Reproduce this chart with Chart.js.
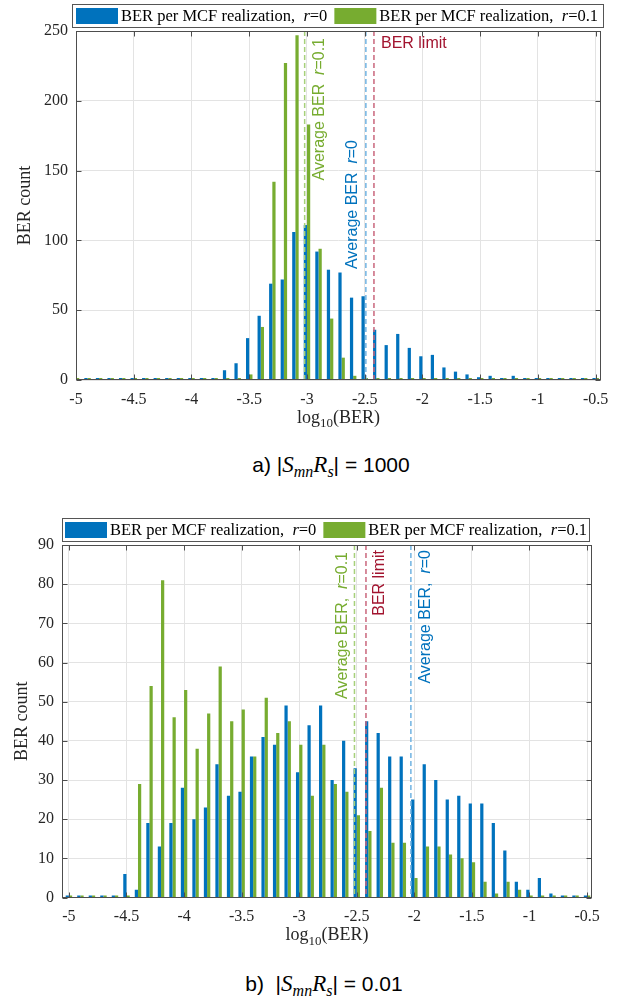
<!DOCTYPE html>
<html>
<head>
<meta charset="utf-8">
<script src="https://cdn.jsdelivr.net/npm/chart.js@4.4.1/dist/chart.umd.min.js"></script>
<style>
  html, body { margin: 0; padding: 0; background: #fff; }
  body { width: 622px; height: 997px; position: relative; overflow: hidden; }
  canvas { position: absolute; left: 0; }
  #chartA { top: 0; }
  #chartB { top: 500px; }
  .cap { position: absolute; width: 622px; text-align: center; font-family: "Liberation Sans", Arial, sans-serif; font-size: 21px; color: #000; line-height: 24px; }
  .cap i { font-family: "Liberation Serif", serif; font-size: 23px; }
  .cap sub { font-family: "Liberation Serif", serif; font-style: italic; font-size: 16px; }
</style>
</head>
<body>
<canvas id="chartA" width="622" height="445"></canvas>
<div class="cap" style="left:20px; top:453px">a) |<i>S</i><sub>mn</sub><i>R</i><sub>s</sub>| = 1000</div>
<canvas id="chartB" width="622" height="455"></canvas>
<div class="cap" style="left:13px; top:972px">b)&nbsp; |<i>S</i><sub>mn</sub><i>R</i><sub>s</sub>| = 0.01</div>
<script>
// histogram bin centres, log10(BER)
const bins = [-5.0, -4.9, -4.8, -4.7, -4.6, -4.5, -4.4, -4.3, -4.2, -4.1, -4.0, -3.9, -3.8, -3.7, -3.6, -3.5,
              -3.4, -3.3, -3.2, -3.1, -3.0, -2.9, -2.8, -2.7, -2.6, -2.5, -2.4, -2.3, -2.2, -2.1, -2.0, -1.9,
              -1.8, -1.7, -1.6, -1.5, -1.4, -1.3, -1.2, -1.1, -1.0, -0.9, -0.8, -0.7, -0.6, -0.5];

// a) |SmnRs| = 1000
const blueA = [0, 0, 0, 0, 0, 0, 0, 0, 0, 0, 0, 0, 0, 7, 12, 30, 46, 69, 72, 106, 111, 92, 79, 77, 59, 60,
               36, 25, 33, 23, 17, 18, 9, 6, 4, 2, 3, 1, 3, 0, 0, 0, 0, 0, 0, 0];
const greenA = [0, 0, 0, 0, 0, 0, 0, 0, 0, 0, 0, 0, 0, 0, 1, 4, 38, 142, 227, 247, 183, 94, 44, 16, 3, 1,
                0, 0, 0, 0, 0, 0, 0, 0, 0, 0, 0, 0, 0, 0, 0, 0, 0, 0, 0, 0];

// b) |SmnRs| = 0.01
const blueB = [0, 0, 0, 0, 0, 6, 2, 19, 13, 19, 28, 20, 23, 34, 26, 27, 36, 41, 39, 49, 32, 44, 49, 30, 40, 33,
               45, 42, 36, 36, 25, 34, 30, 25, 26, 24, 24, 19, 12, 4, 2, 5, 1, 0, 0, 0];
const greenB = [0, 0, 0, 0, 0, 0, 29, 54, 81, 46, 53, 38, 47, 59, 45, 48, 36, 51, 42, 45, 39, 26, 39, 29, 27, 21,
                17, 28, 14, 14, 5, 13, 13, 11, 10, 9, 4, 1, 4, 2, 0, 0, 0, 0, 0, 0];

// average BER (r=0, r=0.1) and the FEC limit, log10
const avgBerA = [-2.49, -3.02];
const avgBerB = [-2.03, -2.52];
const berLimit = -2.42;

const seriesLabels = ['BER per MCF realization,  r=0', 'BER per MCF realization,  r=0.1'];
const xTicks = [-5, -4.5, -4, -3.5, -3, -2.5, -2, -1.5, -1, -0.5];
const yTicksA = [0, 50, 100, 150, 200, 250];
const yTicksB = [0, 10, 20, 30, 40, 50, 60, 70, 80, 90];

const blue = '#0072BD', green = '#77AC30', red = '#A2142F';
const serif = '"Liberation Serif", "Times New Roman", serif';
const sans = '"Liberation Sans", Arial, sans-serif';
const axisColor = '#4d4d4d', textColor = '#262626';

//split "r=" so the r can be drawn in italics
function mathParts(txt) {
    const i = txt.lastIndexOf('r=');
    if (i < 0) return [[txt, false]];
    return [[txt.slice(0, i), false], ['r', true], [txt.slice(i + 1), false]];
}

function measureParts(ctx, parts, size, family) {
    let w = 0;
    parts.forEach(([t, it]) => {
        ctx.font = (it ? 'italic ' : '') + size + 'px ' + family;
        w += ctx.measureText(t).width;
    });
    return w;
}

function drawParts(ctx, parts, x, y, size, family) {
    let w = 0;
    parts.forEach(([t, it]) => {
        ctx.font = (it ? 'italic ' : '') + size + 'px ' + family;
        ctx.fillText(t, x + w, y);
        w += ctx.measureText(t).width;
    });
    return w;
}

//dashed average / limit lines with their labels
const refLines = {
    id: 'refLines',
    afterDatasetsDraw(chart, args, opts) {
        const { ctx, chartArea: a, scales: { x } } = chart;
        ctx.save();
        ctx.lineWidth = 1.5;
        ctx.setLineDash([5, 3]);
        opts.lines.forEach(l => {
            const px = x.getPixelForValue(l.value);
            ctx.strokeStyle = l.color;
            ctx.beginPath();
            ctx.moveTo(px, a.top);
            ctx.lineTo(px, a.bottom);
            ctx.stroke();
        });
        ctx.setLineDash([]);
        ctx.textAlign = 'left';
        ctx.textBaseline = 'middle';
        opts.lines.forEach(l => {
            const px = x.getPixelForValue(l.value);
            const parts = mathParts(l.text);
            ctx.fillStyle = l.textColor;
            if (l.rotate) {
                const w = measureParts(ctx, parts, 16, sans);
                ctx.save();
                ctx.translate(px + l.dx, a.top + l.dy);
                ctx.rotate(-Math.PI / 2);
                drawParts(ctx, parts, -w, 0, 16, sans);
                ctx.restore();
            } else {
                drawParts(ctx, parts, px + l.dx, a.top + l.dy, 16, sans);
            }
        });
        ctx.restore();
    }
};

//box, inner ticks and the x title with subscript
const frame = {
    id: 'frame',
    afterDraw(chart) {
        const { ctx, chartArea: a, scales: { x, y } } = chart;
        ctx.save();
        ctx.strokeStyle = axisColor;
        ctx.lineWidth = 1;
        const L = Math.round(a.left) + 0.5, R = Math.round(a.right) - 0.5;
        const T = Math.round(a.top) + 0.5, B = Math.round(a.bottom) - 0.5;
        ctx.strokeRect(L, T, R - L, B - T);
        ctx.beginPath();
        x.ticks.forEach(t => {
            const p = Math.round(x.getPixelForValue(t.value)) + 0.5;
            ctx.moveTo(p, B); ctx.lineTo(p, B - 5);
            ctx.moveTo(p, T); ctx.lineTo(p, T + 5);
        });
        y.ticks.forEach(t => {
            const p = Math.round(y.getPixelForValue(t.value)) + 0.5;
            ctx.moveTo(L, p); ctx.lineTo(L + 5, p);
            ctx.moveTo(R, p); ctx.lineTo(R - 5, p);
        });
        ctx.stroke();

        ctx.fillStyle = textColor;
        ctx.textAlign = 'left';
        ctx.textBaseline = 'middle';
        const ty = a.bottom + 38;
        ctx.font = '18px ' + serif;
        const w1 = ctx.measureText('log').width, w3 = ctx.measureText('(BER)').width;
        ctx.font = '13px ' + serif;
        const w2 = ctx.measureText('10').width;
        let tx = (a.left + a.right) / 2 - (w1 + w2 + w3) / 2;
        ctx.font = '18px ' + serif;
        ctx.fillText('log', tx, ty);
        tx += w1;
        ctx.font = '13px ' + serif;
        ctx.fillText('10', tx, ty + 6);
        tx += w2;
        ctx.font = '18px ' + serif;
        ctx.fillText('(BER)', tx, ty);
        ctx.restore();
    }
};

//legend in a box above the axes
const boxLegend = {
    id: 'boxLegend',
    afterDraw(chart, args, o) {
        const ctx = chart.ctx;
        ctx.save();
        ctx.fillStyle = '#fff';
        ctx.fillRect(o.left, o.top, o.right - o.left, o.height);
        ctx.strokeStyle = '#555';
        ctx.lineWidth = 1;
        ctx.strokeRect(o.left + 0.5, o.top + 0.5, o.right - o.left, o.height);
        const cy = o.top + o.height / 2 + 0.5;
        let x = o.left + o.pad;
        ctx.textAlign = 'left';
        ctx.textBaseline = 'middle';
        chart.data.datasets.forEach(ds => {
            ctx.fillStyle = ds.backgroundColor;
            ctx.fillRect(x, cy - 8, 42, 16);
            x += 45;
            ctx.fillStyle = '#000';
            x += drawParts(ctx, mathParts(ds.label), x, cy + 1, o.size, serif) + 7;
        });
        ctx.restore();
    }
};

function histChart(id, blueData, greenData, o) {
    return new Chart(document.getElementById(id).getContext('2d'), {
        type: 'bar',
        data: {
            datasets: [
                { label: seriesLabels[0], data: bins.map((b, i) => ({ x: b, y: blueData[i] })), backgroundColor: blue },
                { label: seriesLabels[1], data: bins.map((b, i) => ({ x: b, y: greenData[i] })), backgroundColor: green }
            ]
        },
        options: {
            responsive: false,
            animation: false,
            devicePixelRatio: 1,
            layout: { padding: { top: o.top, right: o.right, left: 0, bottom: 0 } },
            datasets: { bar: { categoryPercentage: 0.56, barPercentage: 1, borderWidth: 0, minBarLength: 2 } },
            plugins: {
                legend: { display: false },
                tooltip: { enabled: false },
                refLines: { lines: o.lines },
                boxLegend: o.legend
            },
            scales: {
                x: {
                    type: 'linear',
                    offset: false,
                    min: o.xMin,
                    max: o.xMax,
                    afterBuildTicks: s => { s.ticks = xTicks.map(v => ({ value: v })); },
                    afterFit: s => { s.height = o.xHeight; },
                    grid: { color: '#e3e3e3', drawTicks: false, offset: false },
                    border: { display: false },
                    ticks: {
                        padding: 10, autoSkip: false, maxRotation: 0, color: textColor,
                        font: { family: serif, size: 16 },
                        callback: v => String(v)
                    }
                },
                y: {
                    min: 0,
                    max: o.yTicks[o.yTicks.length - 1],
                    afterBuildTicks: s => { s.ticks = o.yTicks.map(v => ({ value: v })); },
                    afterFit: s => { s.width = o.yWidth; },
                    grid: { color: '#e3e3e3', drawTicks: false },
                    border: { display: false },
                    ticks: { padding: 8, color: textColor, font: { family: serif, size: 16 } },
                    title: { display: true, text: 'BER count', color: textColor, font: { family: serif, size: 18 }, padding: { top: o.yTitlePad, bottom: 0 } }
                }
            }
        },
        plugins: [refLines, frame, boxLegend]
    });
}

histChart('chartA', blueA, greenA, {
    top: 31, right: 21, xHeight: 65, yWidth: 76, xMin: -5, xMax: -0.454, yTicks: yTicksA, yTitlePad: 14,
    legend: { left: 72, right: 603, top: 4, height: 23, pad: 4, size: 16.5 },
    lines: [
        { value: avgBerA[1], color: '#a6d07a', textColor: green, text: 'Average BER  r=0.1', rotate: true, dx: 15, dy: 7 },
        { value: avgBerA[0], color: '#70b3e2', textColor: blue, text: 'Average BER  r=0', rotate: true, dx: -13, dy: 109 },
        { value: berLimit, color: '#c9667c', textColor: red, text: 'BER limit', rotate: false, dx: 7, dy: 13 }
    ]
});

histChart('chartB', blueB, greenB, {
    top: 45, right: 30, xHeight: 57.5, yWidth: 62, xMin: -5.06, xMax: -0.457, yTicks: yTicksB, yTitlePad: 11,
    legend: { left: 62, right: 589, top: 18, height: 23, pad: 3, size: 16.5 },
    lines: [
        { value: avgBerB[1], color: '#a6d07a', textColor: green, text: 'Average BER,  r=0.1', rotate: true, dx: -12, dy: 7 },
        { value: berLimit, color: '#c9667c', textColor: red, text: 'BER limit', rotate: true, dx: 14, dy: 5 },
        { value: avgBerB[0], color: '#70b3e2', textColor: blue, text: 'Average BER,  r=0', rotate: true, dx: 15, dy: 5 }
    ]
});
</script>
</body>
</html>
